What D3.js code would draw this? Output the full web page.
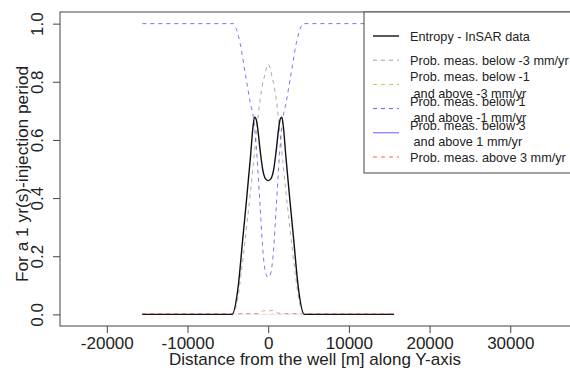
<!DOCTYPE html>
<html>
<head>
<meta charset="utf-8">
<script src="https://cdn.jsdelivr.net/npm/d3@7"></script>
<style>
  body { margin: 0; background: #fff; }
  svg text { font-family: "Liberation Sans", Arial, sans-serif; fill: #222; }
</style>
</head>
<body>
<div id="chart"></div>
<script>
// values (distance in m, probability / entropy)
const entropyX = [-15600, -4500, -3700, -3200, -2700, -2200, -1900, -1700, -1500, -1300, -1000, -660, -300, 0,
                  300, 660, 1000, 1300, 1500, 1700, 1900, 2200, 2700, 3200, 3700, 4500, 15600];
const entropyY = [0, 0, 0.10, 0.245, 0.39, 0.54, 0.64, 0.678, 0.672, 0.64, 0.565, 0.495, 0.465, 0.46,
                  0.465, 0.495, 0.565, 0.64, 0.672, 0.678, 0.64, 0.54, 0.39, 0.245, 0.10, 0, 0];

const belowM3X = [-15600, -4500, -4200, -3800, -3400, -3000, -2600, -2200, -1800, -1400, -1000, -500, 0,
                  500, 1000, 1400, 1800, 2200, 2600, 3000, 3400, 3800, 4200, 4500, 15600];
const belowM3Y = [0, 0, 0.01, 0.05, 0.13, 0.22, 0.32, 0.42, 0.53, 0.64, 0.74, 0.815, 0.86,
                  0.815, 0.74, 0.64, 0.53, 0.42, 0.32, 0.22, 0.13, 0.05, 0.01, 0, 0];

const m3toM1X = [-15600, 15600];
const m3toM1Y = [0.001, 0.001];

const m1to1X = [-15600, -4300, -4000, -3500, -2850, -2230, -1800, -1400, -1000, -600, -300, 0,
                300, 600, 1000, 1400, 1800, 2230, 2850, 3500, 4000, 4300, 15600];
const m1to1Y = [1, 1, 0.985, 0.935, 0.83, 0.73, 0.67, 0.55, 0.37, 0.2, 0.14, 0.127,
                0.14, 0.2, 0.37, 0.55, 0.67, 0.73, 0.83, 0.935, 0.985, 1, 1];

const p1to3X = [-15600, 15600];
const p1to3Y = [0, 0];

const above3X = [-15600, -1000, -600, 0, 500, 1100, 1500, 15600];
const above3Y = [0.002, 0.003, 0.013, 0.011, 0.014, 0.006, 0.003, 0.002];

const xTicks = [-20000, -10000, 0, 10000, 20000, 30000];
const yTicks = [0, 0.2, 0.4, 0.6, 0.8, 1.0];

const legendLabels = [
  ["Entropy - InSAR data"],
  ["Prob. meas. below -3 mm/yr"],
  ["Prob. meas. below -1", " and above -3 mm/yr"],
  ["Prob. meas. below 1", " and above -1 mm/yr"],
  ["Prob. meas. below 3", " and above 1 mm/yr"],
  ["Prob. meas. above 3 mm/yr"]
];

const W = 570, H = 370;
const box = { left: 60, right: 572, top: 12, bottom: 326 };

const svg = d3.select("#chart").append("svg")
  .attr("width", W).attr("height", H);

const x = d3.scaleLinear().domain([-25800, 37650]).range([box.left, box.right]);
const y = d3.scaleLinear().domain([-0.04, 1.04]).range([box.bottom, box.top]);

// series styles (plotOp = how strong the line shows inside the plot)
const series = [
  { xs: entropyX, ys: entropyY, color: "#111", width: 1.4, dash: null, op: 1, plotOp: 1 },
  { xs: belowM3X, ys: belowM3Y, color: "#888", width: 1, dash: "4,4", op: 0.8, plotOp: 0.7 },
  { xs: m3toM1X, ys: m3toM1Y, color: "#9acd32", width: 1, dash: "4,4", op: 0.9, plotOp: 0.3 },
  { xs: m1to1X, ys: m1to1Y, color: "#2b2bff", width: 1, dash: "4,4", op: 0.75, plotOp: 0.65 },
  { xs: p1to3X, ys: p1to3Y, color: "#2b2bff", width: 1, dash: null, op: 0.75, plotOp: 0.1 },
  { xs: above3X, ys: above3Y, color: "#ff3030", width: 1, dash: "4,4", op: 0.8, plotOp: 0.55 }
];
// draw order: faint ones first, entropy and red on top
const drawOrder = [4, 2, 1, 3, 0, 5];

const line = d3.line()
  .x(d => x(d[0]))
  .y(d => y(d[1]))
  .curve(d3.curveMonotoneX);

drawOrder.forEach(k => {
  const s = series[k];
  const pts = s.xs.map((v, i) => [v, s.ys[i]]);
  svg.append("path")
    .attr("d", line(pts))
    .attr("fill", "none")
    .attr("stroke", s.color)
    .attr("stroke-width", s.width)
    .attr("stroke-opacity", s.plotOp)
    .attr("stroke-dasharray", s.dash);
});

// plot frame
svg.append("rect")
  .attr("x", box.left).attr("y", box.top)
  .attr("width", box.right - box.left).attr("height", box.bottom - box.top)
  .attr("fill", "none").attr("stroke", "#444").attr("stroke-width", 1);

// x axis (R style: ticks outside, labels below)
const xAxis = d3.axisBottom(x).tickValues(xTicks).tickSize(7).tickPadding(4)
  .tickFormat(d => d < 0 ? "-" + Math.abs(d) : String(d));
const gx = svg.append("g").attr("transform", "translate(0," + box.bottom + ")").call(xAxis);
gx.select(".domain").remove();
gx.selectAll("line").attr("stroke", "#444");
gx.selectAll("text").attr("font-size", "17px").attr("fill", "#222")
  .attr("font-family", "Liberation Sans, Arial, sans-serif");

// y axis, labels rotated like R's las = 0
const yAxis = d3.axisLeft(y).tickValues(yTicks).tickSize(7).tickFormat(d3.format(".1f"));
const gy = svg.append("g").attr("transform", "translate(" + box.left + ",0)").call(yAxis);
gy.select(".domain").remove();
gy.selectAll("line").attr("stroke", "#444");
gy.selectAll("text")
  .attr("font-size", "17px").attr("fill", "#222")
  .attr("font-family", "Liberation Sans, Arial, sans-serif")
  .attr("x", null).attr("dy", null)
  .attr("text-anchor", "middle")
  .attr("transform", "translate(-17,0) rotate(-90)");

svg.append("text")
  .attr("x", 315).attr("y", 365)
  .attr("text-anchor", "middle").attr("font-size", "17px")
  .text("Distance from the well [m] along Y-axis");

svg.append("text")
  .attr("transform", "translate(28," + ((box.top + box.bottom) / 2 + 5) + ") rotate(-90)")
  .attr("text-anchor", "middle").attr("font-size", "17.3px")
  .text("For a 1 yr(s)-injection period");

// legend (top right, cut by the picture edge like the original)
const lg = svg.append("g");
lg.append("rect")
  .attr("x", 364).attr("y", box.top).attr("width", 220).attr("height", 161)
  .attr("fill", "#fff").attr("stroke", "#444").attr("stroke-width", 1);

const rowY = d3.scaleLinear().domain([0, legendLabels.length - 1]).range([36, 157]);
legendLabels.forEach((lab, i) => {
  const s = series[i];
  const cy = rowY(i);
  lg.append("line")
    .attr("x1", 373).attr("x2", 399).attr("y1", cy).attr("y2", cy)
    .attr("stroke", s.color).attr("stroke-width", s.width)
    .attr("stroke-opacity", s.op).attr("stroke-dasharray", s.dash);
  const offs = lab.length === 1 ? [0] : [-7.5, 9];
  lab.forEach((t, j) => {
    lg.append("text")
      .attr("x", 410).attr("y", cy + offs[j] + 4.5)
      .attr("font-size", "12.7px")
      .style("white-space", "pre")
      .text(t);
  });
});
</script>
</body>
</html>
